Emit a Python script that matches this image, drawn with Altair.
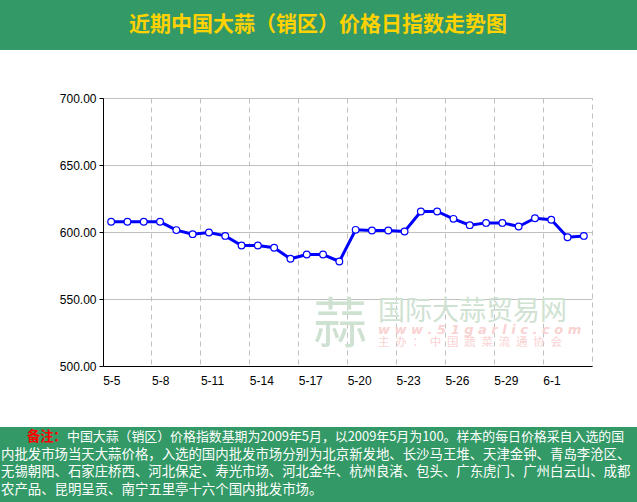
import altair as alt
import pandas as pd

# ---- data ----
dates = ["5-5", "5-6", "5-7", "5-8", "5-9", "5-10", "5-11", "5-12", "5-13", "5-14",
         "5-15", "5-16", "5-17", "5-18", "5-19", "5-20", "5-21", "5-22", "5-23", "5-24",
         "5-25", "5-26", "5-27", "5-28", "5-29", "5-30", "5-31", "6-1", "6-2", "6-3"]
values = [607.6, 607.6, 607.6, 607.6, 601.4, 598.4, 599.6, 597.1, 589.9, 589.9,
          588.2, 580.0, 583.2, 583.2, 578.0, 601.6, 601.1, 601.1, 600.4, 615.3,
          615.3, 609.8, 605.1, 606.8, 606.8, 604.1, 610.3, 609.1, 596.1, 597.1]
x_label_dates = ["5-5", "5-8", "5-11", "5-14", "5-17", "5-20", "5-23", "5-26", "5-29", "6-1"]
y_ticks = [500, 550, 600, 650, 700]

title_text = "近期中国大蒜（销区）价格日指数走势图"
note_head = "备注："
note_line1 = "中国大蒜（销区）价格指数基期为2009年5月，以2009年5月为100。样本的每日价格采自入选的国"
note_rest = [
    "内批发市场当天大蒜价格，入选的国内批发市场分别为北京新发地、长沙马王堆、天津金钟、青岛李沧区、",
    "无锡朝阳、石家庄桥西、河北保定、寿光市场、河北金华、杭州良渚、包头、广东虎门、广州白云山、成都",
    "农产品、昆明呈贡、南宁五里亭十六个国内批发市场。",
]
wm_logo = "蒜"
wm_name = "国际大蒜贸易网"
wm_url = "w w w . 5 1 g a r l i c . c o m"
wm_org = "主\u2002办\u2002：\u2002中\u2002国\u2002蔬\u2002菜\u2002流\u2002通\u2002协\u2002会"

df = pd.DataFrame({"date": dates, "value": values})
one = pd.DataFrame({"k": [0]})

GREEN = "#339966"
W, H = 489, 268
CJK = "Noto Sans CJK SC"

x_enc = alt.X("date:O", sort=dates,
              scale=alt.Scale(type="band", paddingInner=0, paddingOuter=0),
              axis=alt.Axis(values=x_label_dates, bandPosition=0, labelAlign="left",
                            labelOffset=-8, labelAngle=0, title=None, ticks=False,
                            labelPadding=9,
                            grid=True, gridDash=[5, 4], gridColor="#c0c0c0",
                            domainColor="#000000", labelColor="#000000",
                            labelFont="Liberation Sans", labelFontSize=12))
y_enc = alt.Y("value:Q",
              scale=alt.Scale(domain=[500, 700], nice=False, zero=False),
              axis=alt.Axis(values=y_ticks, format=".2f", title=None,
                            grid=True, gridColor="#c0c0c0", domainColor="#000000",
                            tickColor="#000000", tickSize=4, labelPadding=3,
                            labelColor="#000000", labelFont="Liberation Sans",
                            labelFontSize=12))

base = alt.Chart(df)

# decorative bands & texts
top_band = alt.Chart(one).mark_rect(color=GREEN).encode(
    x=alt.value(-103), x2=alt.value(534), y=alt.value(-98), y2=alt.value(-48))
bot_band = alt.Chart(one).mark_rect(color=GREEN).encode(
    x=alt.value(-103), x2=alt.value(534), y=alt.value(329), y2=alt.value(404))
title = alt.Chart(one).mark_text(font=CJK, fontSize=21, fontWeight="bold",
                                 color="#FFD200", align="center", baseline="middle").encode(
    x=alt.value(215), y=alt.value(-73), text=alt.value(title_text))
n_head = alt.Chart(one).mark_text(font=CJK, fontSize=13.2, fontWeight="bold",
                                  color="#FF0000", align="left", baseline="middle").encode(
    x=alt.value(-76), y=alt.value(339), text=alt.value(note_head))
n_l1 = alt.Chart(one).mark_text(font=CJK, fontSize=12.9, color="#FFFFFF",
                                align="left", baseline="middle").encode(
    x=alt.value(-36), y=alt.value(339), text=alt.value(note_line1))
n_rest = alt.Chart(one).mark_text(font=CJK, fontSize=13.4, color="#FFFFFF",
                                  align="left", baseline="middle", lineHeight=17.8).encode(
    x=alt.value(-102), y=alt.value(356.5), text=alt.value(note_rest))

wm1 = alt.Chart(one).mark_text(font=CJK, fontSize=54, color="#cfe2d2",
                               align="center", baseline="middle").encode(
    x=alt.value(237), y=alt.value(229), text=alt.value(wm_logo))
wm2 = alt.Chart(one).mark_text(font=CJK, fontSize=27, color="#cfe2d2",
                               align="left", baseline="middle").encode(
    x=alt.value(275), y=alt.value(214), text=alt.value(wm_name))
wm3 = alt.Chart(one).mark_text(font="DejaVu Sans", fontSize=13, fontStyle="italic",
                               fontWeight="bold", color="#f9d2d2",
                               align="left", baseline="middle").encode(
    x=alt.value(275), y=alt.value(232), text=alt.value(wm_url))
wm4 = alt.Chart(one).mark_text(font=CJK, fontSize=11.5, color="#f9d2d2",
                               align="left", baseline="middle").encode(
    x=alt.value(275), y=alt.value(245), text=alt.value(wm_org))

line = base.mark_line(color="#0000FF", strokeWidth=3).encode(x=x_enc, y=y_enc)
pts = base.mark_point(shape="circle", filled=True, fill="#FFFFFF", stroke="#0000FF",
                      strokeWidth=1.2, size=45, opacity=1).encode(x=x_enc, y=y_enc)

chart = alt.layer(top_band, bot_band, title, n_head, n_l1, n_rest,
                  wm1, wm2, wm3, wm4, line, pts).properties(
    width=W, height=H,
    autosize=alt.AutoSizeParams(type="none"),
    padding={"left": 103, "top": 98, "right": 45, "bottom": 136},
    background="#FFFFFF",
).configure_view(stroke="#c0c0c0", strokeDash=[5, 4])

chart.save("out.html", embed_options={"renderer": "svg", "actions": False})
